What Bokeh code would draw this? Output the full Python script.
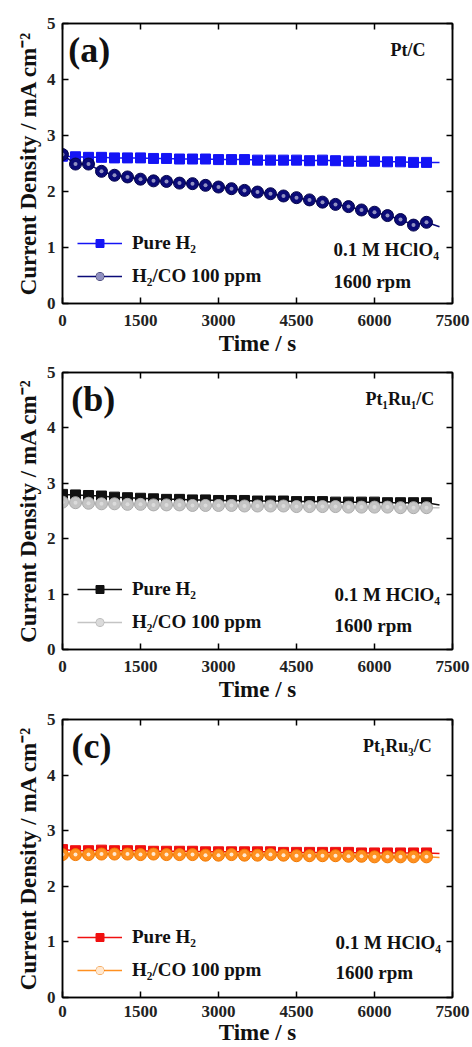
from bokeh.plotting import figure
from bokeh.layouts import column
from bokeh.models import (Range1d, LinearAxis, Label, Legend, LegendItem, FixedTicker,
                          CustomLabelingPolicy)
from bokeh.embed import file_html
from bokeh.resources import INLINE

time_s = [0, 250, 500, 750, 1000, 1250, 1500, 1750, 2000, 2250, 2500, 2750, 3000,
          3250, 3500, 3750, 4000, 4250, 4500, 4750, 5000, 5250, 5500, 5750, 6000,
          6250, 6500, 6750, 7000, 7250]

x_ticks = [0, 1500, 3000, 4500, 6000, 7500]
y_ticks = [0, 1, 2, 3, 4, 5]

# Panel (a) Pt/C
a_pure = [2.63, 2.62, 2.61, 2.61, 2.60, 2.60, 2.60, 2.59, 2.59, 2.58, 2.58, 2.58, 2.57,
          2.57, 2.57, 2.56, 2.56, 2.56, 2.56, 2.55, 2.56, 2.55, 2.54, 2.54, 2.54, 2.53,
          2.53, 2.52, 2.52, 2.52]
a_co = [2.66, 2.49, 2.49, 2.36, 2.29, 2.26, 2.22, 2.19, 2.18, 2.15, 2.14, 2.11, 2.08,
        2.05, 2.02, 1.99, 1.96, 1.92, 1.89, 1.85, 1.81, 1.77, 1.73, 1.67, 1.63, 1.57,
        1.50, 1.40, 1.45, 1.37]
# Panel (b) Pt1Ru1/C
b_pure = [2.80, 2.79, 2.78, 2.77, 2.75, 2.74, 2.73, 2.72, 2.71, 2.71, 2.70, 2.70, 2.69,
          2.69, 2.69, 2.68, 2.68, 2.68, 2.67, 2.67, 2.67, 2.66, 2.66, 2.66, 2.66, 2.65,
          2.65, 2.65, 2.65, 2.61]
b_co = [2.66, 2.65, 2.64, 2.63, 2.63, 2.62, 2.62, 2.61, 2.61, 2.61, 2.60, 2.60, 2.60,
        2.60, 2.59, 2.59, 2.59, 2.59, 2.58, 2.58, 2.58, 2.58, 2.57, 2.57, 2.57, 2.57,
        2.56, 2.56, 2.56, 2.56]
# Panel (c) Pt1Ru3/C
c_pure = [2.66, 2.64, 2.64, 2.65, 2.64, 2.64, 2.64, 2.63, 2.63, 2.63, 2.63, 2.62, 2.62,
          2.62, 2.62, 2.62, 2.62, 2.61, 2.61, 2.61, 2.61, 2.61, 2.61, 2.60, 2.60, 2.60,
          2.60, 2.60, 2.60, 2.59]
c_co = [2.57, 2.57, 2.57, 2.58, 2.58, 2.58, 2.57, 2.58, 2.57, 2.57, 2.57, 2.56, 2.56,
        2.57, 2.56, 2.56, 2.57, 2.56, 2.55, 2.55, 2.55, 2.55, 2.54, 2.54, 2.53, 2.53,
        2.53, 2.53, 2.53, 2.52]

FONT = "Liberation Serif"
Y_LABEL = "Current Density / mA cm\u207b\u00b2"
X_LABEL = "Time / s"
TXT = "#111111"


def make_panel(tag, catalyst, pure, co, col_pure, col_co, edge_co, hl_alpha,
               tag_x, cat_x, note_x, note_y1, note_y2, height, top, bottom,
               tick_standoff, label_standoff):
    p = figure(width=472, height=height, output_backend="svg", toolbar_location=None,
               x_range=Range1d(0, 7500), y_range=Range1d(0, 5),
               min_border_left=62, min_border_right=20, min_border_top=top,
               min_border_bottom=bottom, background_fill_color="white",
               border_fill_color="white")
    p.grid.visible = False
    p.outline_line_color = "black"
    p.outline_line_width = 1.5

    for ax in (p.xaxis[0], p.yaxis[0]):
        ax.major_tick_in = 6
        ax.major_tick_out = 0
        ax.minor_tick_in = 0
        ax.minor_tick_out = 0
        ax.axis_line_width = 1.5
        ax.major_tick_line_width = 1.5
        ax.major_label_text_font = FONT
        ax.major_label_text_font_style = "bold"
        ax.major_label_text_font_size = "17px"
        ax.major_label_text_color = "#222222"
        ax.axis_label_text_font = FONT
        ax.axis_label_text_font_style = "bold"
        ax.axis_label_text_font_size = "23px"
        ax.axis_label_text_color = TXT
    p.xaxis[0].ticker = FixedTicker(ticks=x_ticks)
    p.yaxis[0].ticker = FixedTicker(ticks=y_ticks)
    p.xaxis[0].major_label_standoff = tick_standoff
    p.yaxis[0].major_label_standoff = 7
    p.yaxis[0].axis_label = Y_LABEL
    p.yaxis[0].axis_label_standoff = 3
    p.xaxis[0].axis_label = X_LABEL
    p.xaxis[0].axis_label_standoff = label_standoff

    hide = CustomLabelingPolicy(code="return new Set()")
    for side, tk in (("above", x_ticks), ("right", y_ticks)):
        ax = LinearAxis(ticker=FixedTicker(ticks=tk), major_label_policy=hide,
                        major_tick_in=6, major_tick_out=0, minor_tick_in=0,
                        minor_tick_out=0, axis_line_width=1.5, major_tick_line_width=1.5,
                        major_label_standoff=0)
        p.add_layout(ax, side)

    tm = time_s[:-1]
    l1 = p.line(time_s, pure, line_color=col_pure, line_width=1.5)
    m1 = p.scatter(tm, pure[:-1], marker="square", size=10, fill_color=col_pure,
                   line_color=col_pure)
    l2 = p.line(time_s, co, line_color=col_co, line_width=1.5)
    m2 = p.scatter(tm, co[:-1], marker="circle", size=12, fill_color=col_co,
                   line_color=edge_co)
    h2 = p.scatter(tm, co[:-1], marker="circle", size=4, fill_color="white",
                   line_color=None, fill_alpha=hl_alpha)

    legend = Legend(items=[LegendItem(label="Pure H\u2082", renderers=[l1, m1]),
                           LegendItem(label="H\u2082/CO 100 ppm", renderers=[l2, m2, h2])],
                    location=(15, 16), orientation="vertical",
                    background_fill_alpha=0, border_line_color=None,
                    glyph_width=45, glyph_height=20, label_height=20, spacing=11,
                    padding=0, margin=0, label_standoff=10,
                    label_text_font=FONT, label_text_font_style="bold",
                    label_text_font_size="19px", label_text_color=TXT)
    p.add_layout(legend, "center")

    p.add_layout(Label(x=tag_x, y=4.53, text=tag, text_font=FONT,
                       text_font_style="bold", text_font_size="36px",
                       text_baseline="middle", text_color=TXT))
    p.add_layout(Label(x=cat_x, y=4.52, text=catalyst, text_font=FONT,
                       text_font_style="bold", text_font_size="18px",
                       text_align="right", text_baseline="middle", text_color=TXT))
    p.add_layout(Label(x=note_x, y=note_y1, text="0.1 M HClO\u2084", text_font=FONT,
                       text_font_style="bold", text_font_size="19px",
                       text_baseline="middle", text_color=TXT))
    p.add_layout(Label(x=note_x, y=note_y2, text="1600 rpm", text_font=FONT,
                       text_font_style="bold", text_font_size="19px",
                       text_baseline="middle", text_color=TXT))
    return p


pa = make_panel("(a)", "Pt/C", a_pure, a_co, "#1414f5", "#0a0a78", "#05054a", 0.55,
                110, 6980, 5210, 0.97, 0.39, 358, 23, 51, 11, 2)
pb = make_panel("(b)", "Pt\u2081Ru\u2081/C", b_pure, b_co, "#111111", "#c4c4c4", "#aaaaaa",
                0.4, 170, 7150, 5230, 0.99, 0.43, 346, 14, 50, 11, 2)
pc = make_panel("(c)", "Pt\u2081Ru\u2083/C", c_pure, c_co, "#f01010", "#ff9020", "#f07800",
                0.8, 173, 7100, 5250, 0.99, 0.45, 343, 15, 44, 8, 0)

layout = column(pa, pb, pc, spacing=0)
open("out.html", "w").write(file_html(layout, INLINE))
